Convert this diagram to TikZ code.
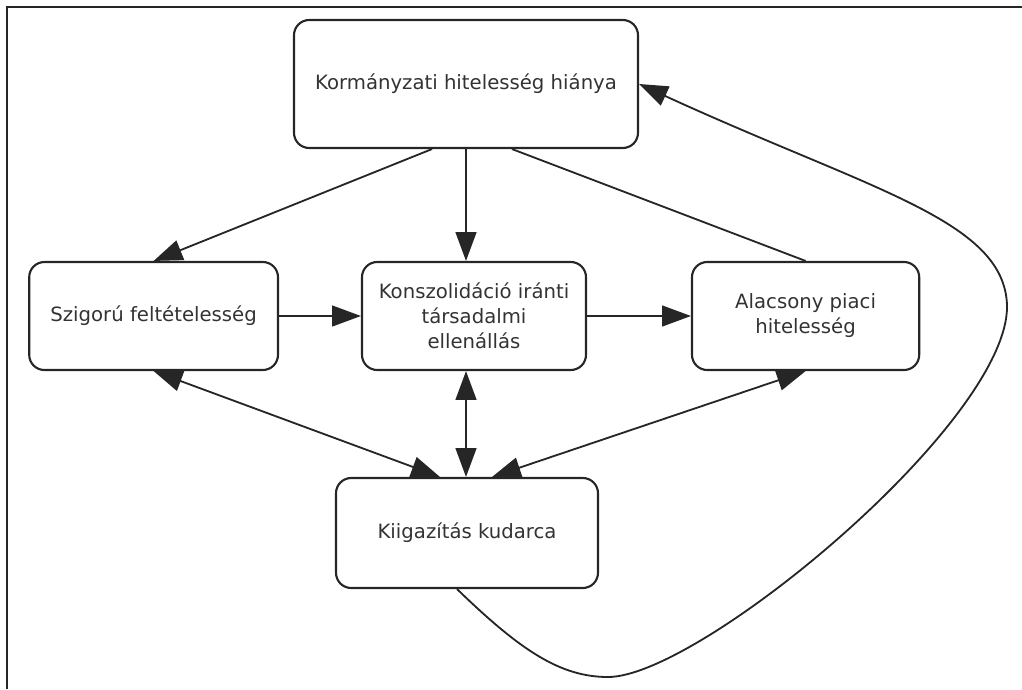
\documentclass[tikz,border=0pt]{standalone}
\usepackage{fontspec}
\setmainfont{DejaVu Sans}
\usetikzlibrary{arrows.meta}

\tikzset{
  box/.style={draw=black!85, line width=1.5pt, rounded corners=0.38cm, align=center,
    text=black!80, font=\fontsize{14}{17.8}\selectfont},
  tip/.style={-{Triangle[length=0.72cm,width=0.52cm]}},
  tips/.style={{Triangle[length=0.72cm,width=0.52cm]}-{Triangle[length=0.72cm,width=0.52cm]}}
}

\begin{document}
\begin{tikzpicture}[line width=1.3pt, black!85]
\useasboundingbox (0,0) rectangle (25.55,-17.225);
\draw[line width=1.6pt] (0.175,-17.225) -- (0.175,-0.175) -- (25.55,-0.175);
\node[box, minimum width=8.6cm, minimum height=3.2cm] (v1) at (11.65,-2.1) {Kormányzati hitelesség hiánya};
\node[box, minimum width=6.22cm, minimum height=2.7cm] (v2) at (3.84,-7.9) {Szigorú feltételesség};
\node[box, minimum width=5.6cm, minimum height=2.7cm] (v3) at (11.85,-7.9) {Konszolidáció iránti\\társadalmi\\ellenállás};
\node[box, minimum width=5.68cm, minimum height=2.7cm] (v4) at (20.14,-7.9) {Alacsony piaci\\hitelesség};
\node[box, minimum width=6.55cm, minimum height=2.75cm] (v5) at (11.675,-13.325) {Kiigazítás kudarca};
\draw[tip] ([xshift=-0.85cm]v1.south) -- (v2.north);
\draw[tip] (v1.south) -- (v1.south |- v3.north);
\draw ([xshift=1.15cm]v1.south) -- (v4.north);
\draw[tip] (v2.east) -- (v3.west);
\draw[tip] (v3.east) -- (v4.west);
\draw[tips] (v2.south) -- ([xshift=-0.675cm]v5.north);
\draw[tips] (v3.south -| v1.south) -- (v1.south |- v5.north);
\draw[tips] (v4.south) -- ([xshift=0.625cm]v5.north);
\draw[tip] ([xshift=-0.25cm]v5.south) .. controls (13,-16.25) and (14,-16.925) .. (15.2,-16.925)
  .. controls (17.5,-16.925) and (25.25,-10.5) .. (25.175,-7.625)
  .. controls (25.1,-5.5) and (21.75,-4.75) .. (v1.east);
\end{tikzpicture}
\end{document}
